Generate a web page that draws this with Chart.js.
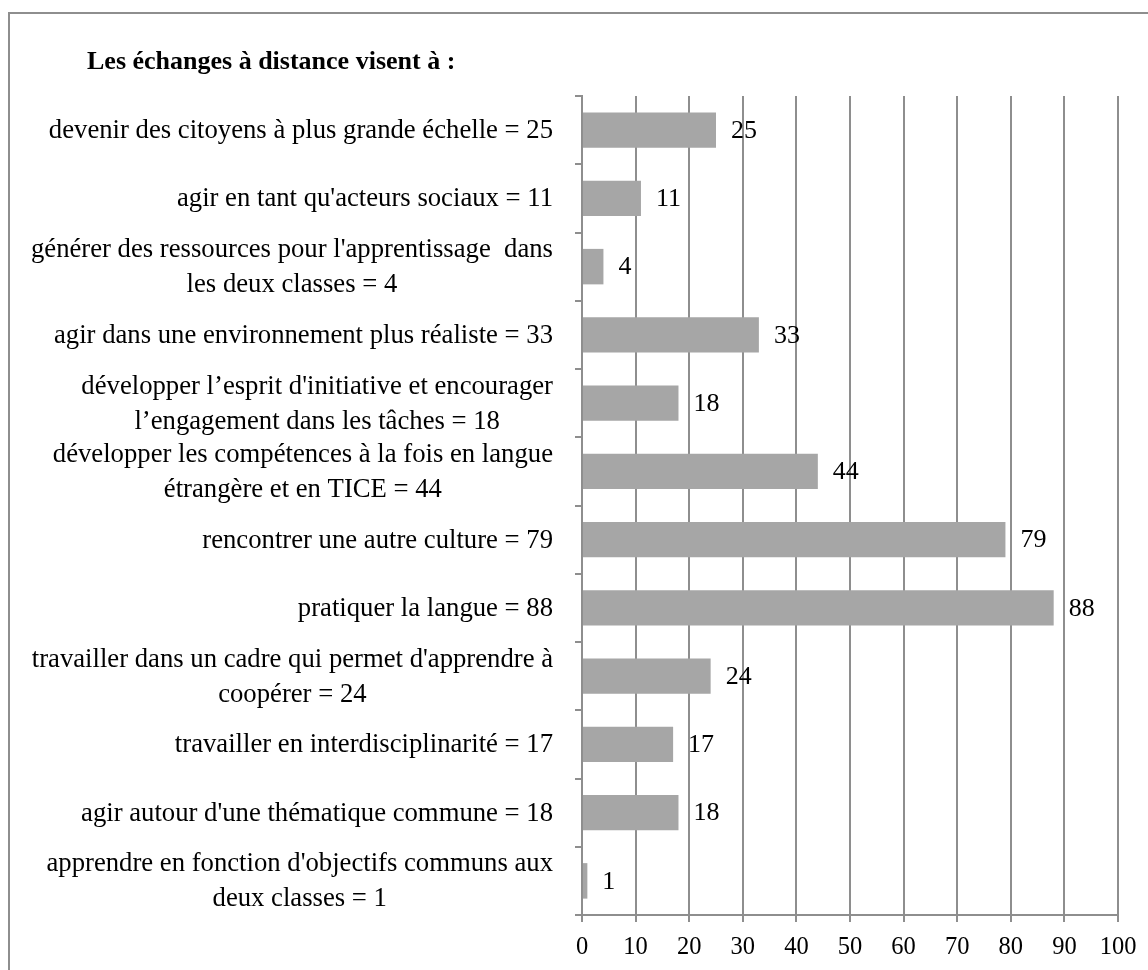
<!DOCTYPE html>
<html>
<head>
<meta charset="utf-8">
<script src="https://cdn.jsdelivr.net/npm/chart.js@4.4.1/dist/chart.umd.min.js"></script>
<style>
  html, body { margin: 0; padding: 0; background: #ffffff; }
  #c { display: block; }
</style>
</head>
<body>
<canvas id="c" width="1148" height="970"></canvas>
<script>
// ---- Data ----
const chartTitle = "Les échanges à distance visent à :";
const categories = [
  "devenir des citoyens à plus grande échelle = 25",
  "agir en tant qu'acteurs sociaux = 11",
  ["générer des ressources pour l'apprentissage  dans", "les deux classes = 4"],
  "agir dans une environnement plus réaliste = 33",
  ["développer l’esprit d'initiative et encourager", "l’engagement dans les tâches = 18"],
  ["développer les compétences à la fois en langue", "étrangère et en TICE = 44"],
  "rencontrer une autre culture = 79",
  "pratiquer la langue = 88",
  ["travailler dans un cadre qui permet d'apprendre à", "coopérer = 24"],
  "travailler en interdisciplinarité = 17",
  "agir autour d'une thématique commune = 18",
  ["apprendre en fonction d'objectifs communs aux", "deux classes = 1"]
];
const values = [25, 11, 4, 33, 18, 44, 79, 88, 24, 17, 18, 1];
const xMin = 0, xMax = 100, xStep = 10;

// ---- Styling ----
const FONT = '"Liberation Serif", "Times New Roman", serif';
const GRID = '#8e8e8e';
const BAR = '#a6a6a6';

Chart.defaults.font.family = FONT;
Chart.defaults.color = '#000';

const decorPlugin = {
  id: 'decor',
  beforeDraw(chart) {
    const ctx = chart.ctx;
    ctx.save();
    ctx.fillStyle = '#fff';
    ctx.fillRect(0, 0, chart.width, chart.height);
    ctx.strokeStyle = GRID;
    ctx.lineWidth = 2;
    ctx.beginPath();
    ctx.moveTo(9, chart.height + 5);
    ctx.lineTo(9, 13);
    ctx.lineTo(chart.width + 5, 13);
    ctx.stroke();
    // title
    ctx.fillStyle = '#000';
    ctx.font = 'bold 26px ' + FONT;
    ctx.textAlign = 'left';
    ctx.textBaseline = 'alphabetic';
    ctx.fillText(chartTitle, 87, 69);
    ctx.restore();
  },
  afterDraw(chart) {
    const ctx = chart.ctx;
    const yScale = chart.scales.y;
    ctx.save();
    ctx.fillStyle = '#000';
    ctx.font = '26.7px ' + FONT;
    ctx.textBaseline = 'middle';
    // category labels: block right-aligned, lines centered within block
    ctx.textAlign = 'center';
    categories.forEach((lab, i) => {
      const lines = Array.isArray(lab) ? lab : [lab];
      const yc = yScale.getPixelForValue(i);
      const maxW = Math.max(...lines.map(l => ctx.measureText(l).width));
      const cx = 553 - maxW / 2;
      lines.forEach((l, j) => {
        ctx.fillText(l, cx, yc + 1 + (j - (lines.length - 1) / 2) * 35);
      });
    });
    // value labels
    ctx.font = '26px ' + FONT;
    ctx.textAlign = 'left';
    const meta = chart.getDatasetMeta(0);
    meta.data.forEach((bar, i) => {
      ctx.fillText(String(values[i]), bar.x + 15, bar.y + 1);
    });
    ctx.restore();
  }
};

new Chart(document.getElementById('c'), {
  type: 'bar',
  data: {
    labels: categories,
    datasets: [{
      data: values,
      backgroundColor: BAR,
      borderWidth: 0,
      barPercentage: 1.0,
      categoryPercentage: 0.52
    }]
  },
  options: {
    indexAxis: 'y',
    responsive: false,
    animation: false,
    devicePixelRatio: 1,
    layout: { padding: { top: 96, right: 30, left: 0, bottom: 0 } },
    plugins: {
      legend: { display: false },
      title: { display: false },
      tooltip: { enabled: false }
    },
    scales: {
      x: {
        type: 'linear',
        min: xMin,
        max: xMax,
        ticks: { stepSize: xStep, font: { size: 24.5 }, color: '#000', padding: 11 },
        grid: { color: GRID, lineWidth: 2, drawTicks: true, tickLength: 7, tickColor: GRID },
        border: { display: true, color: GRID, width: 2 },
        afterFit(s) { s.height = 55; }
      },
      y: {
        type: 'category',
        offset: true,
        ticks: { display: false },
        grid: { offset: true, drawOnChartArea: false, drawTicks: true, tickLength: 7, color: GRID, lineWidth: 2 },
        border: { display: true, color: GRID, width: 2 },
        afterFit(s) { s.width = 582; }
      }
    }
  },
  plugins: [decorPlugin]
});
</script>
</body>
</html>
